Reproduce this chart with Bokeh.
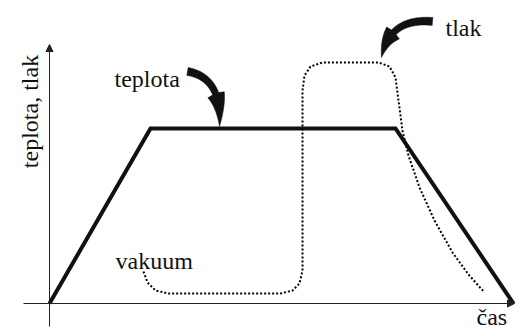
import numpy as np
from bokeh.plotting import figure
from bokeh.models import Range1d, Arrow, NormalHead
from bokeh.core.properties import value
from bokeh.embed import file_html
from bokeh.resources import INLINE

# --- data (time, value) ---
teplota_t = [0.0, 10.1, 34.6, 46.4]
teplota_v = [0.0, 17.5, 17.5, 0.0]

tlak_t = [9.4, 9.8, 10.6, 11.9, 23.1, 24.3, 25.0, 25.3, 25.3, 25.5, 26.1, 27.3,
          32.9, 34.0, 34.6, 34.9, 35.3, 35.9, 37.0, 38.5, 40.3, 41.9, 43.5]
tlak_v = [3.2, 2.1, 1.3, 1.0, 1.0, 1.3, 2.0, 3.3, 21.3, 22.8, 23.7, 24.1,
          24.1, 23.7, 22.6, 20.3, 17.3, 14.8, 11.6, 8.3, 5.1, 2.9, 1.1]

label_text = ["teplota", "tlak", "vakuum"]
label_t = [6.5, 39.6, 6.6]
label_v = [22.5, 27.6, 4.3]

xlabel = "čas"
ylabel = "teplota, tlak"

# curved pointer arrows: tail, control, tip
arrow_teplota = [(13.8, 23.2), (17.3, 22.6), (17.0, 17.7)]
arrow_tlak = [(38.3, 28.2), (34.0, 28.6), (33.2, 24.6)]

FONT = value("Liberation Serif")
FS = value("24px")

p = figure(width=516, height=328, output_backend="svg", toolbar_location=None,
           x_range=Range1d(-4.9, 46.7), y_range=Range1d(-2.5, 30.3),
           min_border=0)
p.axis.visible = False
p.grid.visible = False
p.outline_line_color = None
p.background_fill_color = "white"
p.border_fill_color = "white"

# axes with arrow heads
p.add_layout(Arrow(x_start=-2.6, y_start=0, x_end=46.5, y_end=0,
                   line_color="#222222", line_width=1,
                   end=NormalHead(size=7, fill_color="#222222", line_color="#222222")))
p.add_layout(Arrow(x_start=0, y_start=-2.3, x_end=0, y_end=25.9,
                   line_color="#222222", line_width=1,
                   end=NormalHead(size=7, fill_color="#222222", line_color="#222222")))

# series
p.line(teplota_t, teplota_v, line_color="#111111", line_width=4, line_join="miter")
p.line(tlak_t, tlak_v, line_color="#000000", line_width=2, line_dash="2 2")


def curved_arrow(pts, w0=0.8, w1=0.65, hw=1.8, sh=0.6, n=60):
    P0, P1, P2 = [np.array(q, dtype=float) for q in pts]
    s = np.linspace(0, 1, n)
    B = ((1 - s)[:, None] ** 2) * P0 + (2 * (1 - s) * s)[:, None] * P1 + (s[:, None] ** 2) * P2
    D = (2 * (1 - s))[:, None] * (P1 - P0) + (2 * s)[:, None] * (P2 - P1)
    D = D / np.linalg.norm(D, axis=1)[:, None]
    N = np.stack([-D[:, 1], D[:, 0]], axis=1)
    hwid = np.where(s <= sh, (w0 + (w1 - w0) * s / sh) / 2,
                    (hw / 2) * (1 - (s - sh) / (1 - sh)))
    L = B + N * hwid[:, None]
    R = B - N * hwid[:, None]
    poly = np.vstack([L, R[::-1]])
    return poly[:, 0], poly[:, 1]


for a in (arrow_teplota, arrow_tlak):
    xs, ys = curved_arrow(a)
    p.patch(xs, ys, fill_color="#111111", line_color="#111111", line_width=0.5)

# texts
p.text(x=label_t, y=label_v, text=label_text, text_font=FONT, text_font_size=FS,
       text_color="#111111", text_baseline="alphabetic", text_align="left")
p.text(x=[42.7], y=[-1.3], text=[xlabel], text_font=FONT, text_font_size=FS,
       text_color="#111111", text_baseline="alphabetic", text_align="left")
p.text(x=[-2.0], y=[19.2], text=[ylabel], text_font=FONT, text_font_size=FS,
       text_color="#111111", text_baseline="alphabetic", text_align="center",
       angle=np.pi / 2)

open("out.html", "w").write(file_html(p, INLINE))
